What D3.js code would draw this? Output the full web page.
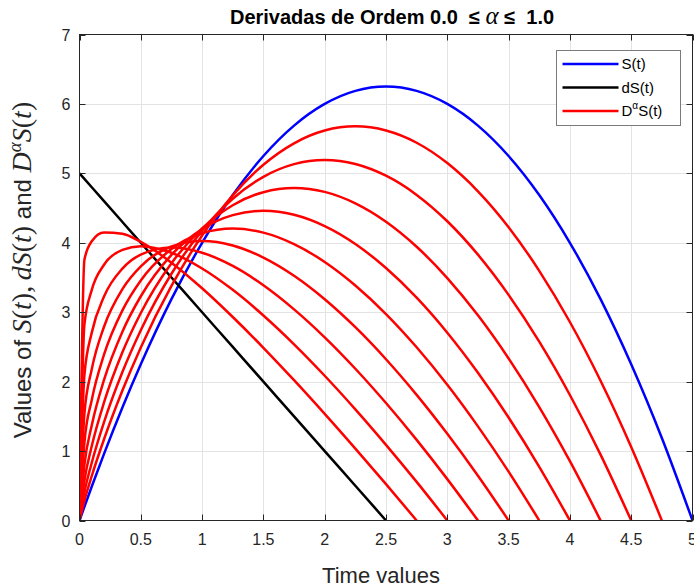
<!DOCTYPE html>
<html>
<head>
<meta charset="utf-8">
<script src="https://cdn.jsdelivr.net/npm/d3@7"></script>
<style>
body { margin: 0; background: #fff; }
</style>
</head>
<body>
<div id="chart"></div>
<script>
// time samples shared by every curve (red curves stop where they reach 0)
var timeValues = [0, 0.04, 0.1, 0.2, 0.35, 0.5, 0.75, 1, 1.25, 1.5, 1.75, 2, 2.25, 2.5, 2.75, 3, 3.25, 3.5, 3.75, 4, 4.25, 4.5, 4.75, 5];

var sValues = [0, 0.198, 0.49, 0.96, 1.628, 2.25, 3.188, 4, 4.688, 5.25, 5.688, 6, 6.188, 6.25, 6.188, 6, 5.688, 5.25, 4.688, 4, 3.188, 2.25, 1.188, 0];
var dsValues = [5, 4.92, 4.8, 4.6, 4.3, 4, 3.5, 3, 2.5, 2, 1.5, 1, 0.5, 0];

var alphaOrders = [0.1, 0.2, 0.3, 0.4, 0.5, 0.6, 0.7, 0.8, 0.9];
var dAlpha01 = [0, 0.285, 0.641, 1.170, 1.872, 2.493, 3.379, 4.104, 4.683, 5.124, 5.433, 5.617, 5.677, 5.617, 5.441, 5.148, 4.742, 4.225, 3.596, 2.859, 2.013, 1.060, 0];
var dAlpha02 = [0, 0.405, 0.832, 1.416, 2.138, 2.741, 3.554, 4.175, 4.635, 4.950, 5.133, 5.193, 5.135, 4.966, 4.690, 4.310, 3.829, 3.250, 2.576, 1.808, 0.949, 0];
var dAlpha03 = [0, 0.573, 1.072, 1.700, 2.422, 2.989, 3.705, 4.208, 4.541, 4.729, 4.789, 4.733, 4.568, 4.303, 3.943, 3.492, 2.955, 2.334, 1.633, 0.854, 0];
var dAlpha04 = [0, 0.803, 1.370, 2.024, 2.720, 3.230, 3.826, 4.197, 4.398, 4.461, 4.404, 4.241, 3.983, 3.636, 3.209, 2.705, 2.128, 1.483, 0.773, 0];
var dAlpha05 = [0, 1.116, 1.737, 2.389, 3.026, 3.458, 3.909, 4.137, 4.205, 4.146, 3.981, 3.724, 3.385, 2.974, 2.495, 1.955, 1.356, 0.704, 0];
var dAlpha06 = [0, 1.537, 2.179, 2.791, 3.333, 3.661, 3.946, 4.025, 3.961, 3.787, 3.525, 3.187, 2.784, 2.323, 1.810, 1.249, 0.645, 0];
var dAlpha07 = [0, 2.095, 2.706, 3.226, 3.628, 3.829, 3.931, 3.857, 3.666, 3.388, 3.041, 2.638, 2.186, 1.692, 1.161, 0.596, 0];
var dAlpha08 = [0, 2.822, 3.321, 3.684, 3.899, 3.951, 3.856, 3.630, 3.322, 2.953, 2.538, 2.085, 1.601, 1.090, 0.556, 0];
var dAlpha09 = [0, 3.754, 4.023, 4.149, 4.130, 4.012, 3.714, 3.345, 2.931, 2.488, 2.021, 1.536, 1.036, 0.524, 0];

var xTicks = [0, 0.5, 1, 1.5, 2, 2.5, 3, 3.5, 4, 4.5, 5];
var xTickLabels = ["0", "0.5", "1", "1.5", "2", "2.5", "3", "3.5", "4", "4.5", "5"];
var yTicks = [0, 1, 2, 3, 4, 5, 6, 7];
var yTickLabels = ["0", "1", "2", "3", "4", "5", "6", "7"];

var legendNames = ["S(t)", "dS(t)", "D\u03B1S(t)"];
var legendColors = ["#0000ff", "#000000", "#ff0000"];

var width = 694, height = 588;
var plotLeft = 79.5, plotRight = 692.5, plotTop = 34.5, plotBottom = 520.5;
var axisColor = "#262626";
var sans = "Helvetica, Arial, 'Liberation Sans', sans-serif";
var serif = "'Liberation Serif', 'Times New Roman', serif";

var svg = d3.select("#chart").append("svg")
    .attr("width", width)
    .attr("height", height);

var x = d3.scaleLinear().domain([0, 5]).range([plotLeft, plotRight]);
var y = d3.scaleLinear().domain([0, 7]).range([plotBottom, plotTop]);

// grid
svg.append("g").selectAll("line")
    .data(xTicks.slice(1, -1))
    .enter().append("line")
    .attr("x1", d => Math.round(x(d)) + 0.5).attr("x2", d => Math.round(x(d)) + 0.5)
    .attr("y1", plotTop).attr("y2", plotBottom)
    .attr("stroke", "#e3e3e3");
svg.append("g").selectAll("line")
    .data(yTicks.slice(1, -1))
    .enter().append("line")
    .attr("y1", d => Math.round(y(d)) + 0.5).attr("y2", d => Math.round(y(d)) + 0.5)
    .attr("x1", plotLeft).attr("x2", plotRight)
    .attr("stroke", "#e3e3e3");

svg.append("clipPath").attr("id", "plotClip")
    .append("rect")
    .attr("x", plotLeft).attr("y", plotTop)
    .attr("width", plotRight - plotLeft).attr("height", plotBottom - plotTop);

var line = d3.line()
    .x(d => x(d[0]))
    .y(d => y(d[1]))
    .curve(d3.curveMonotoneX);

function pairUp(values) {
    return values.map((v, i) => [timeValues[i], v]);
}

var plot = svg.append("g").attr("clip-path", "url(#plotClip)");

plot.append("path")
    .attr("d", line(pairUp(sValues)))
    .attr("fill", "none")
    .attr("stroke", "#0000ff")
    .attr("stroke-width", 2.5);

plot.append("path")
    .attr("d", line(pairUp(dsValues)))
    .attr("fill", "none")
    .attr("stroke", "#000000")
    .attr("stroke-width", 2.5);

var redCurves = [dAlpha01, dAlpha02, dAlpha03, dAlpha04, dAlpha05, dAlpha06, dAlpha07, dAlpha08, dAlpha09];
plot.selectAll(".dalpha")
    .data(redCurves)
    .enter().append("path")
    .attr("class", "dalpha")
    .attr("d", d => line(pairUp(d)))
    .attr("fill", "none")
    .attr("stroke", "#ff0000")
    .attr("stroke-width", 2.5)
    .attr("stroke-linejoin", "round");

// box and ticks (inward, on all four sides)
var axes = svg.append("g").attr("stroke", axisColor).attr("stroke-width", 1);
axes.append("rect")
    .attr("x", plotLeft).attr("y", plotTop)
    .attr("width", plotRight - plotLeft).attr("height", plotBottom - plotTop)
    .attr("fill", "none");
var tickLen = 6;
xTicks.forEach(function (t) {
    var px = Math.round(x(t)) + 0.5;
    axes.append("line").attr("x1", px).attr("x2", px).attr("y1", plotBottom).attr("y2", plotBottom - tickLen);
    axes.append("line").attr("x1", px).attr("x2", px).attr("y1", plotTop).attr("y2", plotTop + tickLen);
});
yTicks.forEach(function (t) {
    var py = Math.round(y(t)) + 0.5;
    axes.append("line").attr("y1", py).attr("y2", py).attr("x1", plotLeft).attr("x2", plotLeft + tickLen);
    axes.append("line").attr("y1", py).attr("y2", py).attr("x1", plotRight).attr("x2", plotRight - tickLen);
});

svg.append("g").selectAll("text")
    .data(xTicks)
    .enter().append("text")
    .attr("x", d => x(d))
    .attr("y", plotBottom + 24)
    .attr("text-anchor", "middle")
    .attr("font-family", sans)
    .attr("font-size", 16)
    .attr("fill", axisColor)
    .text((d, i) => xTickLabels[i]);

svg.append("g").selectAll("text")
    .data(yTicks)
    .enter().append("text")
    .attr("x", plotLeft - 9)
    .attr("y", d => y(d) + 6)
    .attr("text-anchor", "end")
    .attr("font-family", sans)
    .attr("font-size", 16)
    .attr("fill", axisColor)
    .text((d, i) => yTickLabels[i]);

// title
var title = svg.append("text")
    .attr("x", 392)
    .attr("y", 24)
    .attr("text-anchor", "middle")
    .attr("font-family", sans)
    .attr("font-size", 20)
    .attr("font-weight", "bold")
    .attr("fill", "#000");
title.append("tspan").text("Derivadas de Ordem 0.0 \u00A0\u2264 ");
title.append("tspan").attr("font-family", serif).attr("font-style", "italic").attr("font-weight", "normal").attr("font-size", 25).text("\u03B1");
title.append("tspan").text(" \u2264 \u00A01.0");

// x label
svg.append("text")
    .attr("x", 381)
    .attr("y", 583)
    .attr("text-anchor", "middle")
    .attr("font-family", sans)
    .attr("font-size", 22)
    .attr("fill", axisColor)
    .text("Time values");

// y label with math parts
var mathSize = 28;
var ylab = svg.append("text")
    .attr("transform", "translate(31," + 270 + ") rotate(-90)")
    .attr("text-anchor", "middle")
    .attr("font-family", sans)
    .attr("font-size", 24)
    .attr("fill", axisColor);
function mathPart(txt, italic) {
    return ylab.append("tspan")
        .attr("font-family", serif)
        .attr("font-style", italic ? "italic" : "normal")
        .attr("font-size", mathSize)
        .text(txt);
}
ylab.append("tspan").text("Values of ");
mathPart("S", true); mathPart("(", false); mathPart("t", true); mathPart(")", false);
mathPart(",\u2009", false);
mathPart("dS", true); mathPart("(", false); mathPart("t", true); mathPart(")", false);
ylab.append("tspan").text(" and ");
mathPart("D", true);
ylab.append("tspan").attr("font-family", serif).attr("font-style", "italic").attr("font-size", 19).attr("dy", -10).text("\u03B1");
mathPart("S", true).attr("dy", 10);
mathPart("(", false); mathPart("t", true); mathPart(")", false);

// legend
var legend = svg.append("g").attr("transform", "translate(556.5,50.5)");
legend.append("rect")
    .attr("width", 124).attr("height", 75)
    .attr("fill", "#fff")
    .attr("stroke", "#7a7a7a");
legendNames.forEach(function (name, i) {
    var ly = 13.5 + i * 23.5;
    legend.append("line")
        .attr("x1", 6).attr("x2", 62)
        .attr("y1", ly).attr("y2", ly)
        .attr("stroke", legendColors[i])
        .attr("stroke-width", 2.5);
    var lt = legend.append("text")
        .attr("x", 65)
        .attr("y", ly + 5)
        .attr("font-family", sans)
        .attr("font-size", 15)
        .attr("fill", "#000");
    if (i == 2) {
        lt.append("tspan").text("D");
        lt.append("tspan").attr("font-size", 10).attr("dy", -7).text("\u03B1");
        lt.append("tspan").attr("dy", 7).text("S(t)");
    } else {
        lt.text(name);
    }
});
</script>
</body>
</html>
